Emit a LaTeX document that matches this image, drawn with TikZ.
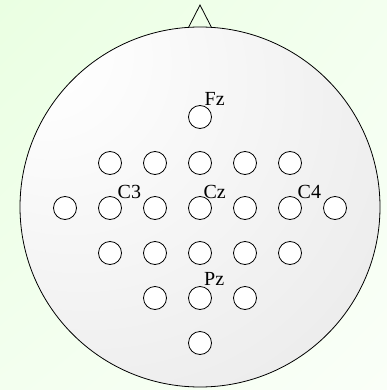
\documentclass[tikz,border=0pt]{standalone}
\usepackage{fontspec}
\setmainfont{Liberation Serif}
\usetikzlibrary{shadings}
\definecolor{bgA}{RGB}{234,255,226}
\definecolor{bgB}{RGB}{243,255,239}
\definecolor{bgC}{RGB}{250,255,248}
\definecolor{headmid}{RGB}{240,240,240}
\definecolor{headedge}{RGB}{228,228,228}
\pgfdeclareradialshading{headshade}{\pgfpoint{-25bp}{25bp}}{color(0bp)=(white); color(5bp)=(white); color(35bp)=(headmid); color(60bp)=(headedge); color(80bp)=(headedge)}
\tikzset{
  electrode/.style={circle, draw=black, fill=white, line width=0.8pt, minimum size=23pt, inner sep=0pt},
  elabel/.style={anchor=base west, inner sep=0pt, font=\fontsize{20}{23}\selectfont},
  outline/.style={draw=black, line width=0.8pt}
}
\begin{document}
\begin{tikzpicture}[x=1pt,y=1pt]
\useasboundingbox (0,0) rectangle (387,-390);
\shade[upper left=bgA, upper right=bgB, lower left=bgB, lower right=bgC] (0,0) rectangle (387,-390);
% nose
\coordinate (noseL) at (188.3,-27.8);
\coordinate (noseT) at (200,-5);
\coordinate (noseR) at (211.7,-27.8);
\draw[outline, line join=miter] (noseL) -- (noseT) -- (noseR);
% head
\node[circle, minimum size=360pt, inner sep=0pt, shading=headshade, draw=black, line width=0.8pt] (head) at (200,-207) {};
% electrodes
\node[electrode] (Fz) at (200,-117) {};
\foreach \x [count=\i] in {110,155,200,245,290} \node[electrode] (r2e\i) at (\x,-163) {};
\node[electrode] (T3) at (65,-208) {};
\node[electrode] (C3) at (110,-208) {};
\node[electrode] (C1) at (155,-208) {};
\node[electrode] (Cz) at (200,-208) {};
\node[electrode] (C2) at (245,-208) {};
\node[electrode] (C4) at (290,-208) {};
\node[electrode] (T4) at (335,-208) {};
\foreach \x [count=\i] in {110,155,200,245,290} \node[electrode] (r4e\i) at (\x,-253) {};
\node[electrode] (P1) at (155,-298) {};
\node[electrode] (Pz) at (200,-298) {};
\node[electrode] (P2) at (245,-298) {};
\node[electrode] (Oz) at (200,-343) {};
% labels
\node[elabel] (lFz) at (204.5,-105.3) {Fz};
\node[elabel] (lC3) at (117.5,-198.3) {C3};
\node[elabel] (lCz) at (203.3,-198.3) {Cz};
\node[elabel] (lC4) at (297.5,-198.3) {C4};
\node[elabel] (lPz) at (204,-285) {Pz};
\end{tikzpicture}
\end{document}
